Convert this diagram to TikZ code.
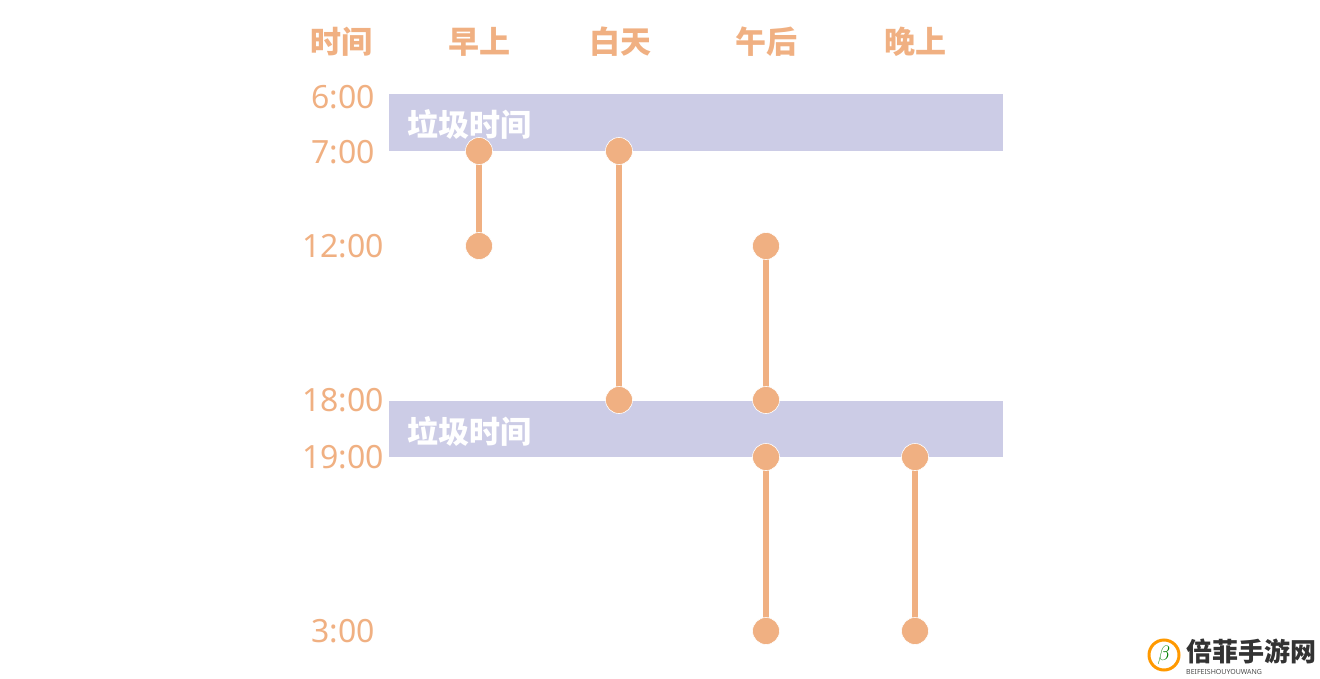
\documentclass[tikz,border=0pt]{standalone}
\usepackage{fontspec}
\setmainfont{Noto Sans}
\newfontfamily\cjk{Noto Sans CJK SC}
\definecolor{og}{HTML}{F0B082}
\definecolor{band}{HTML}{CCCCE6}
\begin{document}
\begin{tikzpicture}[x=1pt,y=-1pt,
  hdr/.style={text=og,font=\cjk\bfseries\fontsize{31}{32}\selectfont,inner sep=0},
  tlab/.style={text=og,font=\fontsize{32}{33}\selectfont,anchor=east,inner sep=0},
  bandlab/.style={text=white,font=\cjk\bfseries\fontsize{31}{32}\selectfont,anchor=west,inner sep=0},
  dot/.style={circle,fill=og,draw=white,line width=0.6pt,minimum size=27pt,inner sep=0},
  bar/.style={draw=og,line width=6.5pt}]
\useasboundingbox (0,0) rectangle (1320,679);
\node[hdr] (h0) at (341,42) {时间};
\node[hdr] (h1) at (479,42) {早上};
\node[hdr] (h2) at (620,42) {白天};
\node[hdr] (h3) at (766,42) {午后};
\node[hdr] (h4) at (915,42) {晚上};
\node[tlab] (t6) at (375,97) {6:00};
\node[tlab] (t7) at (375,152) {7:00};
\node[tlab] (t12) at (384,246) {12:00};
\node[tlab] (t18) at (384,400) {18:00};
\node[tlab] (t19) at (384,457) {19:00};
\node[tlab] (t3) at (375,631) {3:00};
\fill[band] (389,94) rectangle (1003,151);
\fill[band] (389,401) rectangle (1003,457);
\node[bandlab] (b1) at (407,125) {垃圾时间};
\node[bandlab] (b2) at (407,432) {垃圾时间};
\path (479,151) node (a1) {} (479,246) node (a2) {}
      (619,151) node (c1) {} (619,400) node (c2) {}
      (766,246) node (d1) {} (766,400) node (d2) {}
      (766,457) node (e1) {} (766,631) node (e2) {}
      (915,457) node (f1) {} (915,631) node (f2) {};
\draw[bar] (a1.center)--(a2.center);
\draw[bar] (c1.center)--(c2.center);
\draw[bar] (d1.center)--(d2.center);
\draw[bar] (e1.center)--(e2.center);
\draw[bar] (f1.center)--(f2.center);
\foreach \n in {a1,a2,c1,c2,d1,d2,e1,e2,f1,f2} \node[dot] at (\n.center) {};
% watermark
\draw[line width=3pt,color=orange!80!yellow] (1164,655) circle (15);
\node[text=green!50!black,font=\bfseries\fontsize{20}{20}\selectfont] (lg) at (1164,655) {$\beta$};
\node[anchor=west,inner sep=0,font=\cjk\bfseries\fontsize{26}{26}\selectfont,text=black!80] (wm) at (1186,651) {倍菲手游网};
\node[anchor=west,inner sep=0,font=\bfseries\fontsize{7}{7}\selectfont,text=black!70] (wm2) at (1186,672) {BEIFEISHOUYOUWANG};
\end{tikzpicture}
\end{document}
